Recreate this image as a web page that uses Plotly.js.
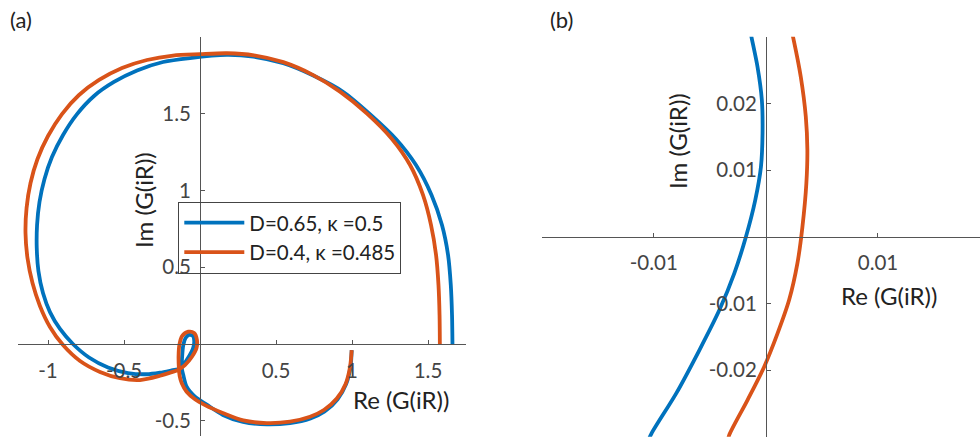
<!DOCTYPE html>
<html><head><meta charset="utf-8">
<script src="https://cdn.plot.ly/plotly-3.0.1.min.js"></script>
<style>html,body{margin:0;padding:0;background:#fff}#chart{width:980px;height:437px}</style>
</head><body><div id="chart"></div>
<script>
// ---------- data ----------
const blueLabel = 'D=0.65, κ =0.5';
const orangeLabel = 'D=0.4, κ =0.485';

const blueRe = [0.998,0.990,0.962,0.905,0.820,0.727,0.592,0.439,0.283,0.151,0.044,-0.033,-0.088,-0.110,-0.120,-0.118,-0.110,-0.095,-0.072,-0.046,-0.038,-0.043,-0.055,-0.094,-0.130,-0.186,-0.263,
  -0.351,-0.474,-0.605,-0.730,-0.836,-0.921,-0.987,-1.033,-1.063,-1.074,-1.072,-1.056,-1.023,-0.974,-0.901,-0.809,-0.697,-0.566,-0.414,-0.243,-0.066,0.176,0.351,
  0.548,0.745,0.943,1.118,1.289,1.421,1.523,1.592,1.632,1.650,1.658,1.661];
const blueIm = [-0.040,-0.150,-0.260,-0.360,-0.440,-0.485,-0.515,-0.524,-0.508,-0.462,-0.395,-0.343,-0.278,-0.202,-0.158,-0.091,-0.007,0.039,0.059,0.052,0.020,-0.020,-0.050,-0.115,-0.160,-0.172,-0.187,
  -0.197,-0.189,-0.153,-0.088,0.000,0.098,0.208,0.332,0.476,0.625,0.775,0.925,1.075,1.218,1.362,1.498,1.616,1.707,1.782,1.837,1.863,1.883,1.872,
  1.829,1.749,1.642,1.498,1.336,1.166,0.971,0.775,0.580,0.384,0.189,0.000];

const orangeRe = [0.998,0.987,0.958,0.900,0.815,0.724,0.592,0.439,0.285,0.154,0.033,-0.033,-0.088,-0.120,-0.134,-0.139,-0.141,-0.136,-0.118,-0.077,-0.039,-0.020,-0.023,-0.053,-0.099,-0.145,-0.185,-0.263,
  -0.395,-0.526,-0.658,-0.789,-0.901,-0.987,-1.053,-1.102,-1.135,-1.148,-1.141,-1.115,-1.069,-1.000,-0.908,-0.796,-0.664,-0.513,-0.349,-0.178,0.000,0.178,0.355,
  0.548,0.745,0.921,1.097,1.263,1.382,1.467,1.520,1.553,1.569,1.576,1.578];
const orangeIm = [-0.040,-0.150,-0.260,-0.355,-0.430,-0.474,-0.506,-0.515,-0.498,-0.451,-0.398,-0.360,-0.311,-0.256,-0.208,-0.156,-0.078,-0.007,0.052,0.080,0.072,0.026,-0.026,-0.083,-0.137,-0.169,-0.183,-0.207,
  -0.235,-0.223,-0.182,-0.111,-0.007,0.111,0.248,0.397,0.560,0.723,0.886,1.049,1.205,1.355,1.498,1.622,1.720,1.798,1.850,1.879,1.888,1.894,1.881,
  1.836,1.752,1.644,1.503,1.336,1.166,0.971,0.775,0.580,0.384,0.189,0.000];

// panel (b): close-up near the origin
const blueZoomRe = [-0.00140,-0.00128,-0.00075,-0.00036,-0.00030,-0.00044,-0.00095,-0.00178,-0.00282,-0.00415,-0.00593,-0.00800,-0.01020,-0.01060];
const blueZoomIm = [0.0310,0.0299,0.0255,0.0205,0.0155,0.0105,0.0055,0.0000,-0.0055,-0.0110,-0.0170,-0.0235,-0.0295,-0.0310];
const orangeZoomRe = [0.00228,0.00243,0.00311,0.00356,0.00370,0.00361,0.00326,0.00281,0.00207,0.00104,-0.00015,-0.00164,-0.00326,-0.00345];
const orangeZoomIm = [0.0310,0.0299,0.0240,0.0180,0.0130,0.0080,0.0015,-0.0040,-0.0095,-0.0145,-0.0195,-0.0245,-0.0297,-0.0310];

const tickValsAx = [-1,-0.5,0.5,1,1.5];
const tickTextAx = ['-1','-0.5','0.5','1','1.5'];
const tickValsAy = [-0.5,0.5,1,1.5,2];
const tickTextAy = ['-0.5','0.5','1','1.5',''];
const tickValsBx = [-0.02,-0.01,0.01];
const tickTextBx = ['','-0.01','0.01'];
const tickValsBy = [-0.03,-0.02,-0.01,0.01,0.02,0.03];
const tickTextBy = ['','-0.02','-0.01','0.01','0.02',''];
const axisTitleRe = 'Re (G(iR))';
const axisTitleIm = 'Im (G(iR))';

// ---------- layout helpers ----------
const W = 980, H = 437;
const BLUE = '#0072BD', ORANGE = '#D95319';
const FONT = 'Lato, "Liberation Sans", Arial, sans-serif';
const px = v => v / W, py = v => 1 - v / H;

const rangeAx = [-1.2, 1.75], rangeAy = [-0.6, 2];
const domAx = [px(17.6), px(466)], domAy = [py(436.1), py(37)];
const rangeBx = [-0.02, 0.0191], rangeBy = [-0.03, 0.03];
const domBx = [px(541.7), 1], domBy = [py(436.7), py(36.7)];

const at0 = (rng, dom) => dom[0] + (0 - rng[0]) / (rng[1] - rng[0]) * (dom[1] - dom[0]);

const axCommon = {
  showgrid: false, zeroline: false, showline: true, linecolor: '#555', linewidth: 1,
  ticks: 'inside', ticklen: 4, tickwidth: 1, tickcolor: '#555',
  tickfont: {family: FONT, size: 20.5, color: '#444'}, tickmode: 'array',
  anchor: 'free', fixedrange: true
};

const lineStyle = c => ({color: c, width: 3.8, shape: 'spline', smoothing: 0.8});

const traces = [
  {x: blueRe, y: blueIm, xaxis: 'x', yaxis: 'y', mode: 'lines', name: blueLabel, line: lineStyle(BLUE)},
  {x: orangeRe, y: orangeIm, xaxis: 'x', yaxis: 'y', mode: 'lines', name: orangeLabel, line: lineStyle(ORANGE)},
  {x: blueZoomRe, y: blueZoomIm, xaxis: 'x2', yaxis: 'y2', mode: 'lines', showlegend: false, line: lineStyle(BLUE)},
  {x: orangeZoomRe, y: orangeZoomIm, xaxis: 'x2', yaxis: 'y2', mode: 'lines', showlegend: false, line: lineStyle(ORANGE)}
];

const titleFont = {family: FONT, size: 24, color: '#222'};
const ann = (t, x, y, angle) => ({text: t, x: px(x), y: py(y), xref: 'paper', yref: 'paper',
  xanchor: 'center', yanchor: 'middle', showarrow: false, font: titleFont, textangle: angle || 0});

const layout = {
  width: W, height: H, margin: {l: 0, r: 0, t: 0, b: 0},
  paper_bgcolor: '#fff', plot_bgcolor: 'rgba(0,0,0,0)',
  showlegend: true,
  legend: {x: px(178.3), y: py(201.7), xanchor: 'left', yanchor: 'top',
    bgcolor: 'rgba(255,255,255,0)', bordercolor: '#444', borderwidth: 1,
    font: {family: FONT, size: 20.5, color: '#222'}, itemwidth: 60, tracegroupgap: 0,
    entrywidth: 228, entrywidthmode: 'pixels'},
  xaxis: Object.assign({}, axCommon, {domain: domAx, range: rangeAx, position: at0(rangeAy, domAy),
    tickvals: tickValsAx, ticktext: tickTextAx, ticklabelstandoff: 8}),
  yaxis: Object.assign({}, axCommon, {domain: domAy, range: rangeAy, position: at0(rangeAx, domAx),
    tickvals: tickValsAy, ticktext: tickTextAy, ticklabelstandoff: 5}),
  xaxis2: Object.assign({}, axCommon, {domain: domBx, range: rangeBx, position: at0(rangeBy, domBy),
    tickvals: tickValsBx, ticktext: tickTextBx, ticklabelstandoff: 8}),
  yaxis2: Object.assign({}, axCommon, {domain: domBy, range: rangeBy, position: at0(rangeBx, domBx),
    tickvals: tickValsBy, ticktext: tickTextBy, ticklabelstandoff: 5}),
  annotations: [
    ann(axisTitleRe, 401, 399), ann(axisTitleIm, 143, 200, -90),
    ann(axisTitleRe, 888.7, 295), ann(axisTitleIm, 678, 141, -90),
    {text: '(a)', x: px(8), y: py(20), xref: 'paper', yref: 'paper', xanchor: 'left', yanchor: 'middle',
     showarrow: false, font: {family: FONT, size: 22, color: '#222'}},
    {text: '(b)', x: px(548), y: py(20), xref: 'paper', yref: 'paper', xanchor: 'left', yanchor: 'middle',
     showarrow: false, font: {family: FONT, size: 22, color: '#222'}}
  ]
};

Plotly.newPlot('chart', traces, layout, {staticPlot: true, displayModeBar: false});
</script>
</body></html>
